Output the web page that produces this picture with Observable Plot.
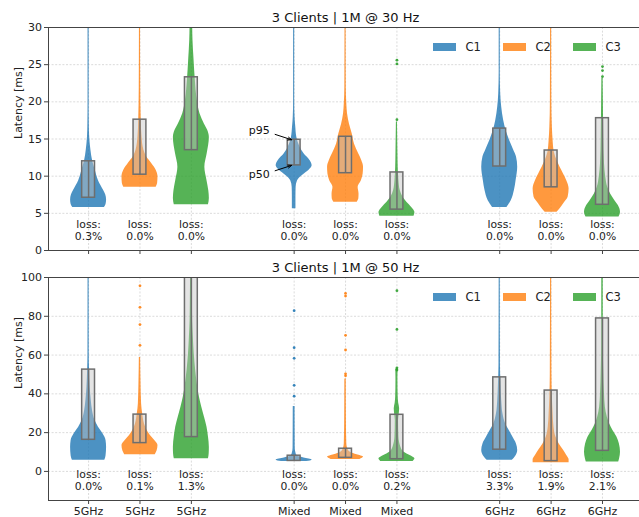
<!DOCTYPE html>
<html>
<head>
<meta charset="utf-8">
<script src="https://cdn.jsdelivr.net/npm/d3@7"></script>
<script src="https://cdn.jsdelivr.net/npm/@observablehq/plot@0.6"></script>
<style>
  html, body { margin: 0; padding: 0; background: #fff; overflow: hidden; }
  #chart { position: relative; width: 639px; height: 517px; overflow: hidden; font-family: "DejaVu Sans", sans-serif; }
  #chart .panel { position: relative; }
  #chart svg { display: block; }
  #chart .lg-swatch { width: 70px; margin-right: 0; font-size: 11.5px; color: #222; }
  #chart .lg-swatch > svg { margin-right: 9.3px; }
</style>
</head>
<body>
<div id="chart"></div>
<script>
// Slot layout: three bands, three clients each
const positions = [0, 1, 2, 4, 5, 6, 8, 9, 10];
const bandLabels = ["5GHz", "5GHz", "5GHz", "Mixed", "Mixed", "Mixed", "6GHz", "6GHz", "6GHz"];
const clients = ["C1", "C2", "C3", "C1", "C2", "C3", "C1", "C2", "C3"];
const clientNames = ["C1", "C2", "C3"];
const clientColors = ["#1f77b4", "#ff7f0e", "#2ca02c"];
const legendColors = ["#4c92c3", "#ff993e", "#56b356"];

// ---- 30 Hz run ----
const yTicks30 = [0, 5, 10, 15, 20, 25, 30];
const p50_30 = [7.1, 10.2, 13.5, 11.45, 10.4, 5.5, 11.3, 8.5, 6.15];
const p95_30 = [12.0, 17.6, 23.3, 14.9, 15.3, 10.5, 16.4, 13.45, 17.8];
const loss_30 = ["0.3%", "0.0%", "0.0%", "0.0%", "0.0%", "0.0%", "0.0%", "0.0%", "0.0%"];
const outliers_30 = [[], [], [], [], [], [17.6, 25.1, 25.6], [], [], [23.4, 24.2, 24.75]];
// latency [ms] -> relative density width
const violins_30 = [
  [[5.8,0.88],[6.2,0.97],[6.8,1.0],[7.5,0.95],[8.1,0.83],[9.4,0.55],[10.8,0.37],[12.1,0.22],[13.5,0.13],[15.3,0.06],[17,0.04],[20,0.03],[31,0.03]],
  [[8.5,0.9],[9.0,0.98],[9.9,1.0],[10.8,0.9],[11.7,0.65],[12.6,0.37],[13.5,0.22],[15.3,0.11],[17.5,0.07],[22,0.04],[31,0.03]],
  [[6.15,0.95],[7.0,1.0],[8.0,0.97],[9.4,0.87],[11.2,0.75],[13.0,0.88],[15.2,1.0],[16.2,0.9],[17.0,0.73],[18.4,0.48],[20.2,0.33],[22.9,0.22],[25.6,0.15],[28.3,0.09],[31,0.07]],
  [[5.6,0.1],[7.2,0.1],[8.5,0.11],[9.4,0.19],[10.1,0.46],[10.8,0.83],[11.4,1.0],[12.1,0.88],[13.0,0.55],[13.9,0.33],[15.2,0.15],[16.6,0.09],[17.9,0.05],[20,0.03],[31,0.03]],
  [[6.5,0.65],[7.0,0.74],[7.6,0.75],[8.5,0.7],[9.4,0.88],[10.3,0.98],[11.2,1.0],[12.1,0.9],[13.0,0.73],[14.3,0.5],[15.7,0.37],[17.0,0.22],[18.4,0.11],[19.7,0.07],[22,0.04],[31,0.03]],
  [[4.6,0.95],[5.1,1.0],[5.8,0.82],[6.5,0.55],[7.2,0.33],[8.1,0.18],[9.4,0.11],[11.2,0.07],[13.0,0.055],[15.5,0.04],[17.3,0.03]],
  [[5.8,0.4],[6.7,0.64],[8.1,0.82],[9.4,0.91],[11.2,1.0],[12.6,0.93],[13.5,0.78],[14.8,0.55],[16.1,0.36],[17.5,0.22],[19.3,0.11],[21.1,0.055],[24,0.03],[31,0.03]],
  [[5.15,0.33],[5.6,0.5],[6.3,0.7],[7.2,0.95],[8.3,1.0],[9.4,0.87],[10.3,0.69],[11.2,0.5],[12.1,0.33],[13.2,0.18],[14.8,0.11],[16.6,0.07],[20,0.04],[31,0.03]],
  [[4.5,0.92],[5.15,1.0],[6.05,0.88],[6.7,0.69],[7.6,0.45],[8.5,0.29],[9.9,0.18],[11.7,0.11],[15.3,0.07],[19.7,0.05],[23.2,0.035]]
];

// ---- 50 Hz run ----
const yTicks50 = [0, 20, 40, 60, 80, 100];
const p50_50 = [16.3, 14.6, 17.7, 5.4, 7.0, 6.3, 11.2, 5.3, 10.6];
const p95_50 = [52.5, 29.3, 115, 8.1, 11.7, 29.2, 48.5, 41.7, 78.9];
const loss_50 = ["0.0%", "0.1%", "1.3%", "0.0%", "0.0%", "0.2%", "3.3%", "1.9%", "2.1%"];
const outliers_50 = [[], [65, 75.7, 84.6, 95.7], [], [38.8, 44.4, 58.3, 63.8, 82.9], [49.3, 50.3, 62.6, 70.2, 90.4, 91.8], [52.3, 53.4, 73.2, 93.2], [], [], []];
const violins_50 = [
  [[5.7,0.9],[8,0.97],[12.5,1.0],[16,0.97],[19.4,0.8],[22.8,0.55],[26.2,0.36],[31.3,0.22],[36.5,0.15],[43.4,0.09],[52,0.055],[60,0.035],[105,0.03]],
  [[8.6,0.85],[10.5,0.95],[13.4,1.0],[16,0.82],[18.5,0.58],[21.1,0.4],[24.5,0.25],[29.7,0.15],[34.8,0.09],[46.8,0.055],[58.8,0.035]],
  [[6.5,0.95],[9,0.99],[12.5,1.0],[17.7,0.95],[22.8,0.87],[27.9,0.73],[33.1,0.58],[38.2,0.45],[45.1,0.33],[52,0.24],[60.6,0.16],[69.1,0.11],[77.7,0.07],[89.7,0.055],[105,0.04]],
  [[5.1,0.7],[5.8,1.0],[6.9,0.55],[7.8,0.22],[9.1,0.11],[12,0.06],[20,0.055],[33.5,0.05]],
  [[6.2,0.8],[7.4,1.0],[8.6,0.64],[9.9,0.27],[11.6,0.13],[14.2,0.07],[25,0.05],[47.7,0.04]],
  [[5.1,0.9],[6.5,1.0],[8.2,0.73],[9.9,0.4],[12.5,0.22],[17.7,0.11],[26.2,0.09],[29,0.12],[32.3,0.15],[35,0.1],[38.2,0.07],[46.8,0.055],[51,0.06],[52.8,0.07]],
  [[5.7,0.7],[7.4,0.86],[10.8,1.0],[14.2,0.93],[17.7,0.73],[21.1,0.53],[24.5,0.33],[29.7,0.18],[36.5,0.11],[45.1,0.07],[55,0.04],[105,0.03]],
  [[4.5,1.0],[6,1.0],[8.2,0.87],[10.8,0.7],[14.2,0.45],[17.7,0.27],[22.8,0.16],[29.7,0.11],[38.2,0.07],[50,0.045],[105,0.03]],
  [[4.8,0.9],[6.5,0.95],[9.9,1.0],[14.2,0.94],[17.7,0.8],[21.1,0.58],[24.5,0.4],[27.9,0.27],[33.1,0.16],[40,0.11],[52,0.07],[65,0.045],[105,0.04]]
];

const HW = 0.35;      // violin half-width at peak density (x units)
const BOX_HW = 0.125; // p50-p95 box half-width
const X_DOMAIN = [-0.78, 10.72];
const INK = "#222";
const SPINE = "#444";
const BOX_STROKE = "#6e6e6e";

function panel(cfg) {
  const rows = cfg.violins.flatMap((prof, i) =>
    prof.map(([v, w]) => ({i, pos: positions[i], client: clients[i], v, w})));
  const boxes = positions.map((pos, i) => ({
    pos, client: clients[i], p50: cfg.p50[i], p95: cfg.p95[i], loss: cfg.loss[i]
  }));
  const dots = cfg.outliers.flatMap((vals, i) =>
    vals.map(v => ({pos: positions[i], client: clients[i], v})));
  const [y0, y1] = cfg.yDomain;
  const lossY = y0 + 0.09 * (y1 - y0);
  const midX = (positions[0] + positions[positions.length - 1]) / 2;
  const gridStyle = {stroke: "#d2d2d2", strokeOpacity: 1, strokeWidth: 0.8, strokeDasharray: "2,1.6"};

  const marks = [
    Plot.gridY(cfg.yTicks, gridStyle),
    Plot.gridX(positions, gridStyle),
    Plot.areaX(rows, {
      y: "v",
      x1: d => d.pos - HW * d.w,
      x2: d => d.pos + HW * d.w,
      z: "i", fill: "client", fillOpacity: 0.8,
      curve: "monotone-y", clip: true
    }),
    Plot.dot(dots, {x: "pos", y: "v", r: 1.4, fill: "client", fillOpacity: 0.9, clip: true}),
    Plot.rect(boxes, {
      x1: d => d.pos - BOX_HW, x2: d => d.pos + BOX_HW, y1: "p50", y2: "p95",
      fill: "#c4c4c4", fillOpacity: 0.45, stroke: BOX_STROKE, strokeWidth: 1.5, clip: true
    }),
    Plot.ruleX(boxes, {x: "pos", y1: "p50", y2: "p95", stroke: BOX_STROKE, strokeWidth: 1.5, clip: true}),
    Plot.text(boxes, {
      x: "pos", y: () => lossY, text: d => `loss:\n${d.loss}`,
      lineHeight: 1.1, fontSize: 10.8, fill: INK
    }),
    Plot.axisY(cfg.yTicks, {tickSize: 4, tickPadding: 2.5, label: null, stroke: SPINE, fill: INK, fontSize: 11}),
    Plot.axisX(positions, {
      tickSize: 4, tickPadding: 3, label: null, stroke: SPINE, fill: INK, fontSize: 11,
      tickFormat: cfg.showLabels ? (d => bandLabels[positions.indexOf(d)]) : (() => "")
    }),
    Plot.ruleX([X_DOMAIN[0]], {stroke: SPINE}),
    Plot.ruleY([y0, y1], {stroke: SPINE}),
    Plot.text([cfg.title], {x: () => midX, frameAnchor: "top", dy: -10, lineAnchor: "middle", fontSize: 13, fill: "#111"}),
    Plot.text(["Latency [ms]"], {frameAnchor: "left", dx: -30, rotate: -90, lineAnchor: "middle", fontSize: 11, fill: INK})
  ];

  if (cfg.annotate !== undefined) {
    const k = cfg.annotate;
    const pos = positions[k];
    const ann = [
      {label: "p95", v: cfg.p95[k], s: 1},
      {label: "p50", v: cfg.p50[k], s: -1}
    ];
    marks.push(
      Plot.arrow(ann, {
        x1: () => pos - 0.37, y1: d => d.v + d.s * 0.72,
        x2: () => pos - 0.05, y2: d => d.v,
        stroke: "#000", strokeWidth: 1, headLength: 6, headAngle: 45
      }),
      Plot.text(ann, {
        x: () => pos - 0.68, y: d => d.v + d.s * 1.22, text: "label",
        lineAnchor: "middle", fontSize: 11, fill: "#111"
      })
    );
  }

  return Plot.plot({
    width: 639,
    height: cfg.height,
    marginLeft: 48,
    marginRight: 0,
    marginTop: cfg.marginTop,
    marginBottom: cfg.marginBottom,
    style: {fontFamily: "DejaVu Sans, sans-serif", fontSize: "11px", background: "#fff", color: INK},
    x: {domain: X_DOMAIN},
    y: {domain: cfg.yDomain},
    color: {domain: clientNames, range: clientColors},
    marks
  });
}

function legend(top) {
  const el = Plot.legend({
    color: {type: "categorical", domain: clientNames, range: legendColors},
    swatchWidth: 23, swatchHeight: 8, className: "lg"
  });
  Object.assign(el.style, {
    position: "absolute", left: "433.3px", top: top + "px", minHeight: "0", height: "16px",
    margin: "0", fontFamily: "DejaVu Sans, sans-serif", fontSize: "11.5px", color: INK, flexWrap: "nowrap"
  });
  return el;
}

const chart = document.getElementById("chart");

const top30 = document.createElement("div");
top30.className = "panel";
top30.appendChild(panel({
  title: "3 Clients | 1M @ 30 Hz",
  yDomain: [0, 30], yTicks: yTicks30,
  violins: violins_30, p50: p50_30, p95: p95_30, loss: loss_30, outliers: outliers_30,
  showLabels: false, height: 260, marginTop: 27, marginBottom: 10, annotate: 3
}));
top30.appendChild(legend(38.5));
chart.appendChild(top30);

const bottom50 = document.createElement("div");
bottom50.className = "panel";
bottom50.appendChild(panel({
  title: "3 Clients | 1M @ 50 Hz",
  yDomain: [-15, 100], yTicks: yTicks50,
  violins: violins_50, p50: p50_50, p95: p95_50, loss: loss_50, outliers: outliers_50,
  showLabels: true, height: 257, marginTop: 17, marginBottom: 17
}));
bottom50.appendChild(legend(28.5));
chart.appendChild(bottom50);
</script>
</body>
</html>
